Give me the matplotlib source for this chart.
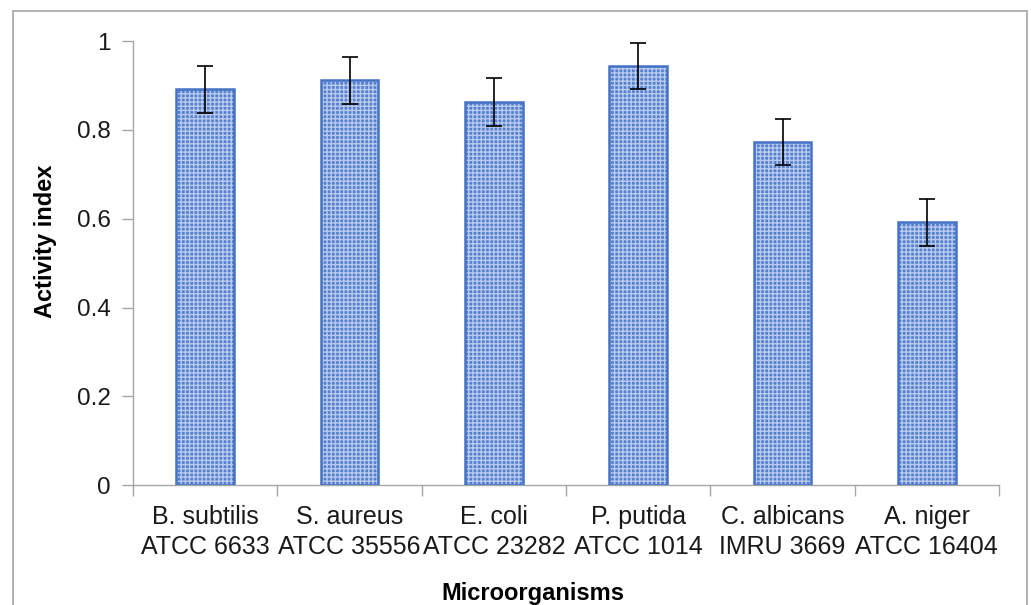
import numpy as np
import matplotlib.pyplot as plt
from matplotlib.patches import Rectangle

plt.rcParams['font.family'] = ['Liberation Sans', 'DejaVu Sans']
plt.rcParams['text.color'] = '#1a1a1a'
plt.rcParams['xtick.labelcolor'] = '#1a1a1a'
plt.rcParams['ytick.labelcolor'] = '#1a1a1a'
plt.rcParams['hatch.linewidth'] = 1.0

organisms = ['B. subtilis\nATCC 6633', 'S. aureus\nATCC 35556', 'E. coli\nATCC 23282',
             'P. putida\nATCC 1014', 'C. albicans\nIMRU 3669', 'A. niger\nATCC 16404']
activity = [0.892, 0.912, 0.863, 0.944, 0.773, 0.592]
errors = [0.053, 0.053, 0.053, 0.052, 0.052, 0.053]

fig = plt.figure(figsize=(10.31, 6.05), dpi=100)
ax = fig.add_axes([0.129, 0.198, 0.840, 0.734])

x = np.arange(len(organisms))
# hatched fill, then outline on top
ax.bar(x, activity, width=0.4, color='#5580CF', edgecolor='#B8CAEE', hatch='++++', linewidth=0, zorder=2)
ax.bar(x, activity, width=0.4, fill=False, edgecolor='#4472C4', linewidth=1.8, zorder=3)
ax.errorbar(x, activity, yerr=errors, fmt='none', ecolor='black', elinewidth=1.2,
            capsize=6, capthick=1.2, zorder=4)

ax.set_xlim(-0.5, len(organisms) - 0.5)
ax.set_ylim(0, 1)
ax.set_yticks([0, 0.2, 0.4, 0.6, 0.8, 1])
ax.set_yticklabels(['0', '0.2', '0.4', '0.6', '0.8', '1'])
ax.set_xticks(x)
ax.set_xticklabels(organisms, fontsize=18, linespacing=1.32)
ax.set_xticks(np.arange(-0.5, len(organisms)), minor=True)
ax.tick_params(axis='x', which='major', length=0, pad=14)
ax.tick_params(axis='x', which='minor', length=8, color='#A6A6A6', width=1)
ax.tick_params(axis='y', length=8, color='#A6A6A6', width=1, labelsize=17.5, pad=8)

for s in ['top', 'right']:
    ax.spines[s].set_visible(False)
for s in ['left', 'bottom']:
    ax.spines[s].set_color('#A6A6A6')
    ax.spines[s].set_linewidth(1)

ax.set_ylabel('Activity index', fontsize=17, fontweight='bold')
ax.set_xlabel('Microorganisms', fontsize=17, fontweight='bold')
ax.xaxis.set_label_coords(0.462, -0.218)
ax.yaxis.set_label_coords(-0.088, 0.55)

# outer chart border
fig.patches.append(Rectangle((13 / 1031, -0.05), 1014 / 1031, 1.05 - 11 / 605,
                             transform=fig.transFigure, fill=False,
                             edgecolor='#A6A6A6', linewidth=1.2))

fig.savefig('out.png', dpi=100)
